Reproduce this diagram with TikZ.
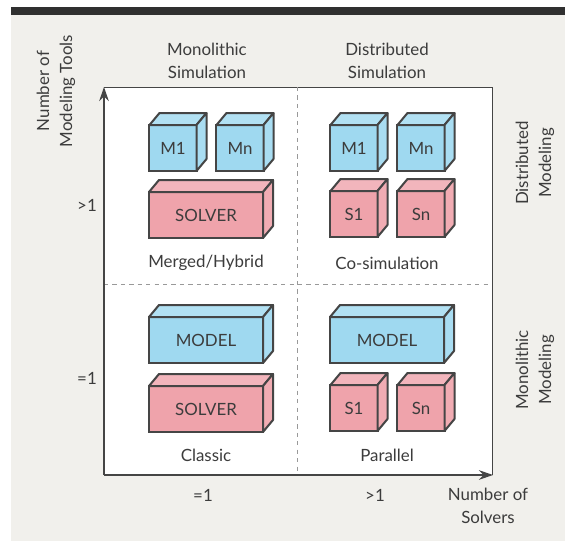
\documentclass[tikz,border=0pt]{standalone}
\usepackage{fontspec}
\setmainfont{Lato}
\usetikzlibrary{positioning,calc,arrows.meta}

\definecolor{modelblue}{HTML}{9FD9F0}
\definecolor{solverred}{HTML}{EFA3AB}
\definecolor{edgegray}{HTML}{454545}
\definecolor{paper}{HTML}{F1F0EC}
\definecolor{inkgray}{HTML}{3C3C3C}

\begin{document}
\begin{tikzpicture}
  [x=0.25mm, y=-0.25mm,
   every node/.style={font=\fontsize{12}{16.3}\selectfont, text=inkgray},
   blockN/.style={rectangle, draw=edgegray, line width=0.5mm,
                  minimum height=11.5mm, inner sep=0pt, outer sep=0pt},
   cubeN/.style={blockN, minimum width=11.75mm},
   wideN/.style={blockN, minimum width=28.5mm},
   modelN/.style={fill=modelblue},
   solverN/.style={fill=solverred},
   face/.style={draw=edgegray, line width=0.5mm, line join=round},
   caption/.style={align=center},
   axis/.style={draw=edgegray, line width=0.4mm,
                -{Stealth[length=3.5mm,width=2.4mm]}},
   divider/.style={draw=gray!80, dashed, line width=0.25mm}]

  \useasboundingbox (0,0) rectangle (565,541);
  \fill[paper] (11,7) rectangle (565,541);
  \fill[edgegray!70!black] (11,7) rectangle (565,15);

  % frame
  \coordinate (o)     at (104,475);
  \coordinate (ytop)  at (104,87);
  \coordinate (xend)  at (493,475);
  \coordinate (tr)    at (492,87);
  \coordinate (br)    at (492,475);
  \coordinate (dtop)  at (297,87);
  \coordinate (dbot)  at (297,475);
  \coordinate (dleft) at (104,284);
  \coordinate (dright) at (492,284);

  \fill[white] (ytop) rectangle (br);
  \draw[edgegray, line width=0.25mm] (ytop) -- (tr) -- (br);
  \draw[divider] (dtop) -- (dbot);
  \draw[divider] (dleft) -- (dright);
  \draw[axis] (o) -- (ytop);
  \draw[axis] (o) -- (xend);

  % merged/hybrid
  \node[cubeN, modelN] (tlM1) at (173,148) {M1};
  \node[cubeN, modelN] (tlMn) at (240,148) {Mn};
  \node[wideN, solverN] (tlS) at (206,215) {SOLVER};
  \node[caption] (tlcap) at (206,263) {Merged/Hybrid};

  % co-simulation
  \node[cubeN, modelN] (trM1) at (354,148) {M1};
  \node[cubeN, modelN] (trMn) at (421,148) {Mn};
  \node[cubeN, solverN] (trS1) at (354,214) {S1};
  \node[cubeN, solverN] (trSn) at (421,214) {Sn};
  \node[caption] (trcap) at (387,263) {Co-simulation};

  % classic
  \node[wideN, modelN] (blM) at (206,340) {MODEL};
  \node[wideN, solverN] (blS) at (206,409) {SOLVER};
  \node[caption] (blcap) at (206,455) {Classic};

  % parallel
  \node[wideN, modelN] (brM) at (387,340) {MODEL};
  \node[cubeN, solverN] (brS1) at (354,408) {S1};
  \node[cubeN, solverN] (brSn) at (421,408) {Sn};
  \node[caption] (brcap) at (387,455) {Parallel};

  \foreach \b/\c in {tlM1/modelblue, tlMn/modelblue, tlS/solverred,
                     trM1/modelblue, trMn/modelblue, trS1/solverred, trSn/solverred,
                     blM/modelblue, blS/solverred,
                     brM/modelblue, brS1/solverred, brSn/solverred}{
    \filldraw[face, fill=\c!80!white] (\b.north west) -- ++(10,-12)
      -- ([shift={(10,-12)}]\b.north east) -- (\b.north east) -- cycle;
    \filldraw[face, fill=\c!90!white] (\b.north east) -- ++(10,-12)
      -- ([shift={(10,-12)}]\b.south east) -- (\b.south east) -- cycle;
  }

  % axis labels
  \node[caption] (colmono) at (207,61) {Monolithic\\Simulation};
  \node[caption] (coldist) at (387,61) {Distributed\\Simulation};
  \node[caption, rotate=90] (yname) at (56,91) {Number of\\Modeling Tools};
  \node (ygt) at (87,205) {>1};
  \node (yeq) at (87,378) {=1};
  \node (xeq) at (203,495) {=1};
  \node (xgt) at (375,495) {>1};
  \node[caption] (xname) at (488,506) {Number of\\Solvers};
  \node[caption, rotate=90] (rdist) at (535,163) {Distributed\\Modeling};
  \node[caption, rotate=90] (rmono) at (535,370) {Monolithic\\Modeling};
\end{tikzpicture}
\end{document}
